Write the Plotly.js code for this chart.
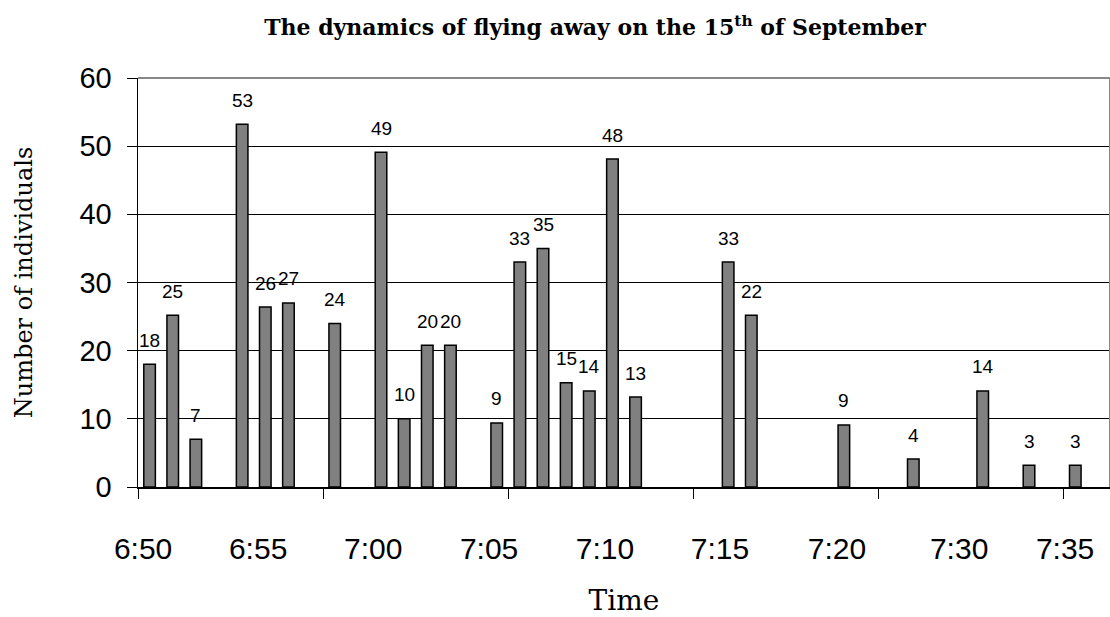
<!DOCTYPE html>
<html>
<head>
<meta charset="utf-8">
<script src="https://cdn.plot.ly/plotly-3.0.1.min.js"></script>
<style>html,body{margin:0;padding:0;background:#fff;}#chart{width:1110px;height:617px;}</style>
</head>
<body>
<div id="chart"></div>
<script>
// category slot of each bar (one slot per observation interval)
const slot = [0, 1, 2, 4, 5, 6, 8, 10, 11, 12, 13, 15, 16, 17, 18, 19, 20, 21, 25, 26, 30, 33, 36, 38, 40];
// bar heights as drawn
const heights = [18, 25.2, 7, 53.2, 26.4, 27, 24, 49.1, 10, 20.8, 20.8, 9.4, 33, 35, 15.3, 14.1, 48.1, 13.2, 33, 25.2, 9.1, 4.1, 14.1, 3.2, 3.2];
// printed data labels
const dataLabels = ['18', '25', '7', '53', '26', '27', '24', '49', '10', '20', '20', '9', '33', '35', '15', '14', '48', '13', '33', '22', '9', '4', '14', '3', '3'];
// time tick labels and where they sit along the slot axis
const timeLabels = ['6:50', '6:55', '7:00', '7:05', '7:10', '7:15', '7:20', '7:30', '7:35'];
const timeLabelPos = [-0.28, 4.69, 9.66, 14.67, 19.68, 24.65, 29.7, 34.98, 39.56];
const nSlots = 42;

const trace = {
  type: 'bar',
  x: slot,
  y: heights,
  width: 0.5,
  marker: {color: '#808080', line: {color: '#000', width: 1.5}},
  hoverinfo: 'skip'
};

const annotations = slot.map((s, i) => ({
  x: s, y: heights[i], text: dataLabels[i], showarrow: false,
  yshift: 24, font: {family: 'Liberation Sans, Arial, sans-serif', size: 19, color: '#000'}
}));

const layout = {
  width: 1110, height: 617,
  margin: {l: 138, r: 0, t: 78, b: 130},
  paper_bgcolor: '#fff', plot_bgcolor: '#fff',
  showlegend: false,
  title: {
    text: 'The dynamics of flying away on the 15<sup>th</sup> of September',
    font: {family: 'DejaVu Serif, serif', size: 22, color: '#000', weight: 'bold'},
    xref: 'container', x: 0.536, xanchor: 'center',
    yref: 'container', y: 0.955, yanchor: 'middle'
  },
  xaxis: {
    range: [-0.5, nSlots - 0.5],
    tickmode: 'array', tickvals: timeLabelPos, ticktext: timeLabels,
    ticks: '', ticklabelstandoff: 34,
    tickfont: {family: 'Liberation Sans, Arial, sans-serif', size: 30, color: '#000'},
    minor: {tickmode: 'linear', tick0: -0.5, dtick: 8, ticks: 'outside', ticklen: 10, tickcolor: '#000', tickwidth: 1, showgrid: false},
    showline: true, linecolor: '#000', linewidth: 1.5,
    showgrid: false, zeroline: false, fixedrange: true,
    title: {text: 'Time', font: {family: 'DejaVu Serif, serif', size: 28, color: '#000'}, standoff: 30}
  },
  yaxis: {
    range: [0, 60], tickmode: 'linear', tick0: 0, dtick: 10,
    ticks: 'outside', ticklen: 10, tickcolor: '#000', tickwidth: 1,
    ticklabelstandoff: 9,
    tickfont: {family: 'Liberation Sans, Arial, sans-serif', size: 29, color: '#000'},
    showline: true, linecolor: '#000', linewidth: 1.5,
    showgrid: true, gridcolor: '#000', gridwidth: 1,
    zeroline: false, fixedrange: true,
    title: {text: 'Number of individuals', font: {family: 'DejaVu Serif, serif', size: 24, color: '#000'}, standoff: 40}
  },
  annotations: annotations,
  shapes: [
    {type: 'line', xref: 'paper', yref: 'paper', x0: 0, x1: 1, y0: 1, y1: 1, line: {color: '#888', width: 2}, layer: 'above'},
    {type: 'line', xref: 'paper', yref: 'paper', x0: 1, x1: 1, y0: 0, y1: 1, line: {color: '#888', width: 2}, layer: 'above'}
  ]
};

Plotly.newPlot('chart', [trace], layout, {displayModeBar: false, staticPlot: true});
</script>
</body>
</html>
